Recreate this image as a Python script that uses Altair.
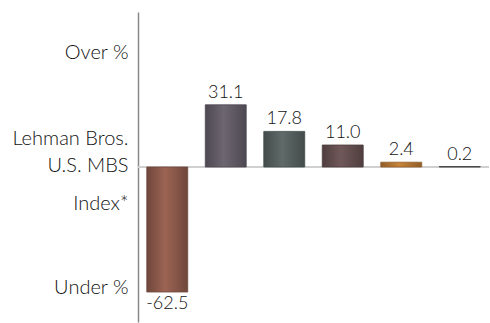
import altair as alt
import pandas as pd

categories = ["A", "B", "C", "D", "E", "F"]
values = [-62.5, 31.1, 17.8, 11.0, 2.4, 0.2]
labels = ["-62.5", "31.1", "17.8", "11.0", "2.4", "0.2"]
base_colors = ["#9c6453", "#6d6671", "#5f6a69", "#705859", "#c98439", "#5a5a5a"]
edge_colors = ["#6f473c", "#4e4852", "#434c4b", "#4f3e3f", "#8f5d28", "#3c3c3c"]

axis_values = [57.25, 14.5, 1.0, -18.0, -60.25]
axis_texts = ["Over %", "Lehman Bros.", "U.S. MBS", "Index*", "Under %"]

df = pd.DataFrame({"cat": categories, "value": values, "label": labels})

FONT = "Lato"

label_expr = " : ".join(
    f"datum.value == {v} ? '{t}'" for v, t in zip(axis_values, axis_texts)
) + " : ''"

x_scale = alt.Scale(domain=categories, paddingInner=0.3, paddingOuter=0.15)
y_scale = alt.Scale(domain=[-77.5, 77.5], nice=False, zero=False)

base = alt.Chart(df)

zero_rule = base.mark_rule(color="#cfcfcf", strokeWidth=1).encode(
    y=alt.datum(0, scale=y_scale)
)

bars = []
for c, bc, ec in zip(categories, base_colors, edge_colors):
    bars.append(
        base.transform_filter(alt.datum.cat == c)
        .mark_bar(
            color=alt.Gradient(
                gradient="linear", x1=0, x2=1, y1=0, y2=0,
                stops=[
                    alt.GradientStop(color=ec, offset=0),
                    alt.GradientStop(color=bc, offset=0.45),
                    alt.GradientStop(color=ec, offset=1),
                ],
            ),
            stroke=ec,
            strokeWidth=0.8,
        )
        .encode(
            x=alt.X("cat:N", scale=x_scale, axis=None),
            y=alt.Y(
                "value:Q",
                scale=y_scale,
                axis=alt.Axis(
                    values=axis_values,
                    labelExpr=label_expr,
                    ticks=False,
                    grid=False,
                    title=None,
                    domainColor="#8a8a8a",
                    domainWidth=1.5,
                    labelFont=FONT,
                    labelFontSize=20,
                    labelFontWeight=300,
                    labelColor="#111111",
                    labelPadding=10,
                    labelBaseline="middle",
                ),
            ),
            y2=alt.datum(0),
        )
    )

pos_text = base.transform_filter(alt.datum.value >= 0).mark_text(
    baseline="bottom", dy=-3, font=FONT, fontSize=18, fontWeight=300, color="#111111"
).encode(
    x=alt.X("cat:N", scale=x_scale),
    y=alt.Y("value:Q", scale=y_scale),
    text="label:N",
)

neg_text = base.transform_filter(alt.datum.value < 0).mark_text(
    baseline="top", dy=3, font=FONT, fontSize=18, fontWeight=300, color="#111111"
).encode(
    x=alt.X("cat:N", scale=x_scale),
    y=alt.Y("value:Q", scale=y_scale),
    text="label:N",
)

chart = alt.layer(zero_rule, *bars, pos_text, neg_text).properties(
    width=351,
    height=310,
    background="white",
    autosize=alt.AutoSizeParams(type="none"),
    padding={"left": 138, "top": 12, "right": 1, "bottom": 1},
).configure_view(strokeWidth=0, stroke="transparent")

chart.save("out.html", embed_options={"renderer": "svg", "actions": False})
